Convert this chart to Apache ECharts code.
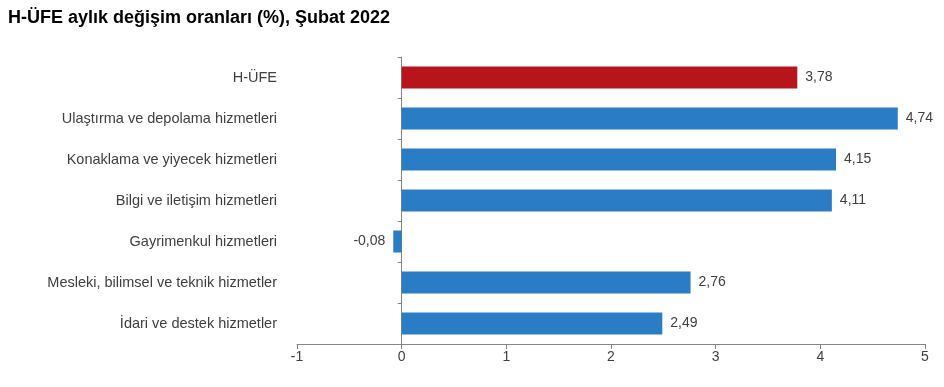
<!DOCTYPE html>
<html><head><meta charset="utf-8">
<script src="https://cdn.jsdelivr.net/npm/echarts@6/dist/echarts.min.js"></script>
<style>html,body{margin:0;padding:0;background:#fff}#c{width:944px;height:387px}</style>
</head><body><div id="c"></div>
<script>
const categories = ["H-ÜFE","Ulaştırma ve depolama hizmetleri","Konaklama ve yiyecek hizmetleri","Bilgi ve iletişim hizmetleri","Gayrimenkul hizmetleri","Mesleki, bilimsel ve teknik hizmetler","İdari ve destek hizmetler"];
const values = [3.78, 4.74, 4.15, 4.11, -0.08, 2.76, 2.49];
const xTicks = [-1, 0, 1, 2, 3, 4, 5];
const title = "H-ÜFE aylık değişim oranları (%), Şubat 2022";

const FONT = "'Liberation Sans Narrow','Liberation Sans',Arial,sans-serif";
const chart = echarts.init(document.getElementById('c'));
const data = values.map((v, i) => ({
  value: v,
  itemStyle: { color: i === 0 ? '#B8141C' : '#2A7CC4' },
  label: { position: v < 0 ? 'left' : 'right' }
}));
chart.setOption({
  animation: false,
  title: { text: title, left: 3, top: 4, textStyle: { fontFamily: "'Liberation Sans',Arial,sans-serif", fontWeight: 'bold', fontSize: 18, color: '#000' } },
  grid: { left: 297, right: 19, top: 57, bottom: 43, containLabel: false, outerBoundsMode: 'none' },
  xAxis: {
    type: 'value', min: xTicks[0], max: xTicks[xTicks.length - 1], interval: 1,
    axisLine: { show: true, lineStyle: { color: '#868686', width: 1 } },
    axisTick: { show: true, length: 5, lineStyle: { color: '#868686' } },
    splitLine: { show: false },
    axisLabel: { fontFamily: FONT, fontSize: 14, color: '#404040', margin: 6 }
  },
  yAxis: {
    type: 'category', data: categories, inverse: true,
    axisLine: { show: true, onZero: true, lineStyle: { color: '#868686' } },
    axisTick: { show: true, length: 4, lineStyle: { color: '#868686' } },
    axisLabel: { fontFamily: FONT, fontSize: 14.5, color: '#404040', margin: 20 }
  },
  series: [{
    type: 'bar', data: data, barWidth: 22,
    label: { show: true, fontFamily: FONT, fontSize: 14, color: '#404040', distance: 8,
      formatter: p => String(p.value.toFixed(2)).replace('.', ',') }
  }]
});
</script></body></html>
